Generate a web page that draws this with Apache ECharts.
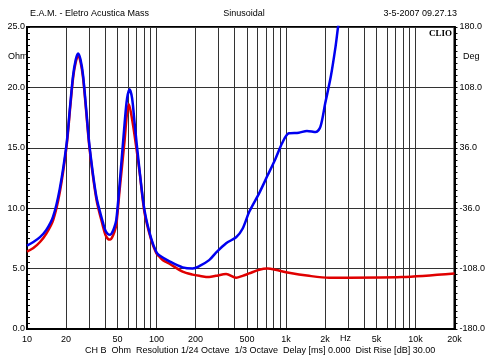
<!DOCTYPE html>
<html><head><meta charset="utf-8">
<script src="https://cdn.jsdelivr.net/npm/echarts@6/dist/echarts.min.js"></script>
<style>html,body{margin:0;padding:0;background:#fff}#c{width:488px;height:356px}</style>
</head><body><div id="c"></div>
<script>
const redFreq = [10, 11.2, 12.6, 14.1, 15.9, 17.9, 20.2, 21.5, 22.7, 23.8, 24.8, 25.9, 27.1, 28.7, 30.5, 34.4, 38.6, 40.3, 42.2, 44, 45.5, 47, 48.9, 51.9, 56.7, 59, 61, 63.5, 67.8, 74.2, 80.9, 90.9, 99.5, 105, 112, 126, 159, 190, 214, 255, 287, 345, 412, 462, 520, 621, 720, 830, 1053, 1505, 2154, 3050, 7800, 20000];
const redOhm  = [6.4, 6.7, 7.2, 7.9, 9.0, 11.3, 15.1, 18.2, 20.8, 22.1, 22.6, 22.1, 20.8, 17.9, 14.8, 10.7, 8.5, 7.8, 7.45, 7.4, 7.6, 7.95, 8.6, 11.5, 15.6, 17.7, 18.6, 17.9, 16.0, 12.9, 9.6, 7.4, 6.3, 6.0, 5.7, 5.4, 4.75, 4.5, 4.4, 4.3, 4.4, 4.55, 4.25, 4.4, 4.6, 4.9, 5.0, 4.9, 4.65, 4.4, 4.25, 4.25, 4.3, 4.6];
const blueFreq = [10, 11.2, 12.6, 14.1, 15.9, 17.9, 20.2, 21.5, 22.7, 23.8, 24.8, 25.9, 27.1, 28.7, 30.5, 34.4, 38.6, 40.3, 42.2, 44, 45.5, 47, 48.9, 51.9, 56.7, 59.3, 62, 64.8, 67.8, 74.2, 80.9, 90.9, 99.5, 105, 126, 159, 190, 214, 255, 287, 345, 412, 462, 520, 621, 720, 830, 935, 1053, 1256, 1452, 1700, 1845, 2010, 2218, 2415, 2523, 2650];
const blueOhm  = [6.9, 7.2, 7.6, 8.2, 9.3, 11.6, 15.3, 18.4, 21.0, 22.3, 22.8, 22.3, 21.0, 18.1, 15.0, 10.9, 8.8, 8.15, 7.85, 7.8, 8.0, 8.35, 9.0, 12.0, 17.0, 19.1, 19.85, 19.1, 17.0, 13.0, 9.8, 7.5, 6.4, 6.1, 5.6, 5.1, 5.0, 5.2, 5.7, 6.3, 7.1, 7.6, 8.3, 9.7, 11.25, 12.7, 14.1, 15.4, 16.2, 16.25, 16.4, 16.3, 16.75, 18.7, 20.9, 23.4, 25.0, 26.5];
const xLabelValues = [10, 20, 50, 100, 200, 500, 1000, 2000, 5000, 10000, 20000];
const xGridValues = [10,20,30,40,50,60,70,80,90,100,200,300,400,500,600,700,800,900,1000,2000,3000,4000,5000,6000,7000,8000,9000,10000,20000];
const leftTicks = [0, 5, 10, 15, 20, 25];
const rightTicks = [-180, -108, -36, 36, 108, 180];

const FONT = 'Liberation Sans';
const chart = echarts.init(document.getElementById('c'), null, {renderer: 'canvas'});
const pair = (f, v) => f.map((x, i) => [x, v[i]]);
const lblX = v => v >= 1000 ? (v / 1000) + 'k' : String(v);
const txt = (text, x, y, extra) => ({type: 'text', x: x, y: y, style: Object.assign({text: text, font: '9px "' + FONT + '"', fill: '#000'}, extra || {})});

chart.setOption({
  animation: false,
  grid: {left: 27, right: 32, top: 27, bottom: 27, show: true, borderColor: '#000', borderWidth: 2, backgroundColor: 'transparent'},
  xAxis: {
    type: 'log', logBase: 10, min: 10, max: 20000,
    axisLine: {show: true, lineStyle: {color: '#000', width: 2}},
    axisTick: {show: false, customValues: xGridValues},
    splitLine: {show: true, lineStyle: {color: '#333', width: 1}},
    minorTick: {show: false}, minorSplitLine: {show: false},
    axisLabel: {customValues: xLabelValues, formatter: lblX, fontFamily: FONT, fontSize: 9, color: '#000', margin: 6, showMinLabel: true, showMaxLabel: true}
  },
  yAxis: [
    {
      type: 'value', min: leftTicks[0], max: leftTicks[leftTicks.length - 1], interval: 5, position: 'left',
      axisLine: {show: true, lineStyle: {color: '#000', width: 2}},
      axisTick: {show: true, inside: true, length: 3, lineStyle: {color: '#000'}},
      minorTick: {show: true, splitNumber: 10, length: 3, lineStyle: {color: '#000'}},
      splitLine: {show: true, lineStyle: {color: '#333', width: 1}},
      axisLabel: {formatter: v => v.toFixed(1), fontFamily: FONT, fontSize: 9, color: '#000', margin: 2}
    },
    {
      type: 'value', min: rightTicks[0], max: rightTicks[rightTicks.length - 1], interval: 72, position: 'right',
      axisLine: {show: true, lineStyle: {color: '#000', width: 2}},
      axisTick: {show: true, inside: false, length: 3, lineStyle: {color: '#000'}},
      minorTick: {show: true, splitNumber: 10, length: 3, lineStyle: {color: '#000'}},
      splitLine: {show: false},
      axisLabel: {formatter: v => v.toFixed(1), fontFamily: FONT, fontSize: 9, color: '#000', margin: 5}
    }
  ],
  series: [
    {type: 'line', data: pair(redFreq, redOhm), yAxisIndex: 0, showSymbol: false, smooth: 0.3, clip: true,
     lineStyle: {color: '#e00000', width: 2.5}, z: 3},
    {type: 'line', data: pair(blueFreq, blueOhm), yAxisIndex: 0, showSymbol: false, smooth: 0.3, clip: true,
     lineStyle: {color: '#0000f0', width: 2.5}, z: 4}
  ],
  graphic: [
    txt('E.A.M. - Eletro Acustica Mass', 30, 9),
    txt('Sinusoidal', 244, 9, {align: 'center'}),
    txt('3-5-2007 09.27.13', 457, 9, {align: 'right'}),
    txt('CLIO', 452, 29, {align: 'right', font: 'bold 9px "Liberation Serif"'}),
    txt('Ohm', 8, 52),
    txt('Deg', 463, 52),
    txt('Hz', 340, 334),
    txt('CH B  Ohm  Resolution 1/24 Octave  1/3 Octave  Delay [ms] 0.000  Dist Rise [dB] 30.00', 85, 346)
  ]
});
</script></body></html>
